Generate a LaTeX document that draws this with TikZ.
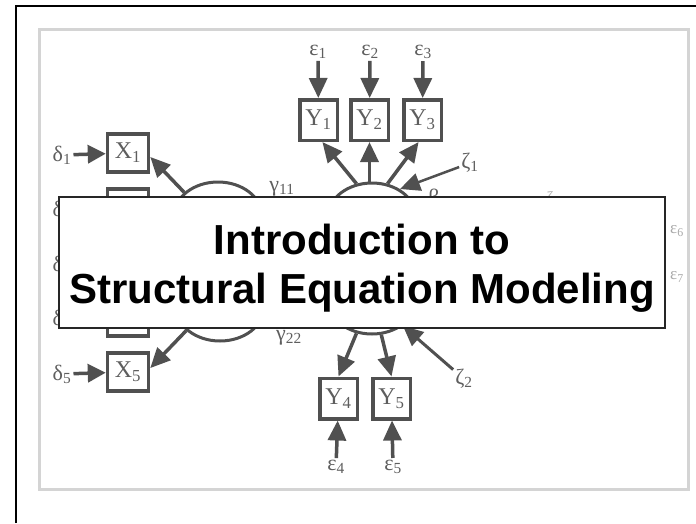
\documentclass[tikz,border=0pt]{standalone}
\usepackage{fontspec}
\setmainfont{Liberation Serif}
\newfontfamily\titlefont{Liberation Sans}
\usetikzlibrary{arrows.meta,shapes.geometric}
\definecolor{pathgray}{HTML}{505050}
\definecolor{lblgray}{HTML}{5E5E5E}
\definecolor{fadegray}{HTML}{A8A8A8}
\definecolor{framegray}{HTML}{D4D4D4}
\newcommand{\vsub}[2]{#1\textsubscript{#2}}
\tikzset{
  obs/.style={draw=pathgray, line width=3.5pt, fill=white, minimum width=37.5pt,
              minimum height=40.5pt, inner sep=0pt, text=lblgray,
              font=\fontsize{24}{26}\selectfont},
  xobs/.style={obs, minimum width=41pt, minimum height=38pt},
  lat/.style={ellipse, draw=pathgray, line width=3pt, fill=white,
              minimum width=88pt, minimum height=68pt, inner sep=0pt},
  err/.style={inner sep=2pt, text=lblgray, font=\fontsize{22}{24}\selectfont},
  faint/.style={inner sep=1pt, text=fadegray, font=\fontsize{17}{20}\selectfont},
  load/.style={draw=pathgray, line width=3.5pt,
               -{Triangle[length=20pt,width=18pt]}},
  dist/.style={load, line width=2.5pt},
  titlebox/.style={draw=black!85, line width=1.2pt, fill=white,
                   minimum width=606pt, minimum height=131pt, align=center,
                   inner sep=0pt, text height=88pt, text depth=7pt,
                   font=\titlefont\bfseries\fontsize{42}{49}\selectfont},
}
\begin{document}
\begin{tikzpicture}[x=1pt, y=-1pt]
\useasboundingbox (0,0) rectangle (696,523);

% slide frame
\draw[line width=2pt] (15.5,523) -- (15.5,6) -- (696,6);
\draw[framegray, line width=3pt] (39,29) rectangle (688,489);

% latent variables (mostly behind the title)
\node[lat] (xi1) at (218,216) {};
\node[lat] (xi2) at (220,307) {};
\node[lat] (eta1) at (372,217) {};
\node[lat] (eta2) at (372,300) {};

% upper indicators
\node[obs] (Y1) at (318.5,120) {\vsub{Y}{1}};
\node[obs] (Y2) at (369.5,120) {\vsub{Y}{2}};
\node[obs] (Y3) at (422.5,120) {\vsub{Y}{3}};
\node[err] (e1) at (318,52) {\vsub{ε}{1}};
\node[err] (e2) at (370,52) {\vsub{ε}{2}};
\node[err] (e3) at (423,52) {\vsub{ε}{3}};
\draw[load] (e1) -- (Y1);
\draw[load] (e2) -- (Y2);
\draw[load] (e3) -- (Y3);
\draw[load] (eta1.115) -- (Y1.280);
\draw[load] (eta1.north -| Y2.south) -- (Y2.south);
\draw[load] (eta1.65) -- (Y3.260);

\node[err] (z1) at (470,163) {\vsub{ζ}{1}};
\draw[dist] (z1) -- (eta1.45);
\node[err, anchor=base] (beta) at (434,204) {β};
\node[err, anchor=base] (g11) at (282,191) {\vsub{γ}{11}};
\node[err, anchor=base] (g22) at (289,340) {\vsub{γ}{22}};

% lower indicators
\node[obs] (Y4) at (338.5,398.5) {\vsub{Y}{4}};
\node[obs] (Y5) at (391.5,398.5) {\vsub{Y}{5}};
\node[err] (e4) at (336,467) {\vsub{ε}{4}};
\node[err] (e5) at (393,467) {\vsub{ε}{5}};
\draw[load] (e4) -- (Y4);
\draw[load] (e5) -- (Y5);
\draw[load] (eta2.-115) -- (Y4.north);
\draw[load] (eta2.-75) -- (Y5.north);
\node[err] (z2) at (464,379) {\vsub{ζ}{2}};
\draw[load, line width=3pt] (z2) -- (eta2.-40);

% exogenous indicators
\node[xobs] (X1) at (128,153) {\vsub{X}{1}};
\foreach \i/\y in {2/208,3/263,4/317} {
  \node[xobs] (X\i) at (128,\y) {};
}
\node[xobs] (X5) at (128,372) {\vsub{X}{5}};
\foreach \i/\y in {1/153,2/208,3/263,4/317,5/372} {
  \node[err] (d\i) at (62,\y+2) {\vsub{δ}{\i}};
}
\draw[load, -{Triangle[length=18pt,width=18pt]}] (d1) -- (X1);
\draw[load, -{Triangle[length=18pt,width=18pt]}] (d5) -- (X5);
\draw[load] (xi1.145) -- (X1.-10);
\draw[load] (xi2.-145) -- (X5.10);

% faded right side
\node[faint, anchor=base] (z3) at (553,203) {\vsub{ζ}{3}};
\node[faint] (e6) at (677,231) {\vsub{ε}{6}};
\node[faint] (e7) at (677,277) {\vsub{ε}{7}};

% title
\node[titlebox] (title) at (362,262.5)
  {Introduction to\\Structural Equation Modeling};

\end{tikzpicture}
\end{document}
